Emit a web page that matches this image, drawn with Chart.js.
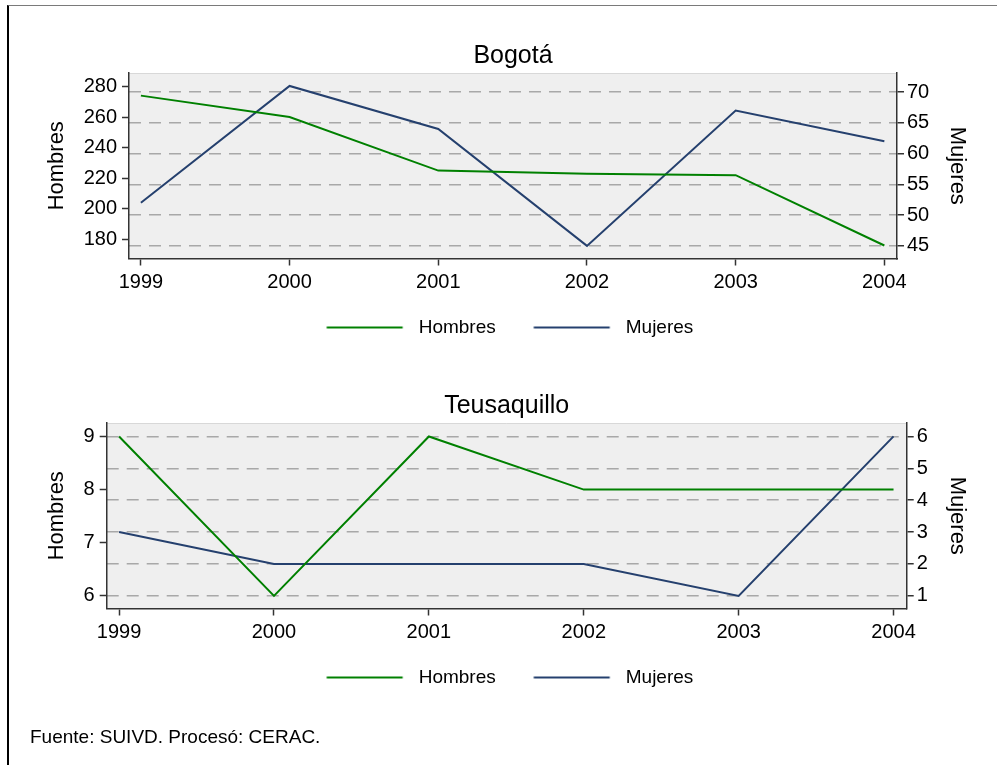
<!DOCTYPE html>
<html>
<head>
<meta charset="UTF-8">
<title>Bogotá y Teusaquillo</title>
<script src="https://cdn.jsdelivr.net/npm/chart.js"></script>
<style>
body{margin:0;background:#fff;width:997px;height:765px;overflow:hidden;position:relative;font-family:"Liberation Sans",Arial,sans-serif;}
#marco{position:absolute;left:7px;top:5px;width:995px;height:770px;border-top:1px solid #7a7a7a;border-left:2px solid #000;}
.panel{position:absolute;left:0;width:997px;height:380px;}
#fuente{position:absolute;left:30px;top:727px;font-size:19px;line-height:20px;color:#000;white-space:nowrap;}
</style>
</head>
<body>
<div id="marco"></div>
<div class="panel" style="top:0px"><canvas id="bogota"></canvas></div>
<div class="panel" style="top:350px"><canvas id="teusaquillo"></canvas></div>
<div id="fuente">Fuente: SUIVD. Procesó: CERAC.</div>
<script>
// datos
var anios = [1999, 2000, 2001, 2002, 2003, 2004];
var bogotaHombres = [274, 260, 225, 223, 222, 176];
var bogotaMujeres = [52, 71, 64, 45, 67, 62];
var teusaHombres = [9, 6, 9, 8, 8, 8];
var teusaMujeres = [3, 2, 2, 2, 1, 6];
var bogotaTicksH = [180, 200, 220, 240, 260, 280];
var bogotaTicksM = [45, 50, 55, 60, 65, 70];
var teusaTicksH = [6, 7, 8, 9];
var teusaTicksM = [1, 2, 3, 4, 5, 6];

var verde = '#008000';
var azul = '#25406e';
var fuente = '"Liberation Sans", Arial, sans-serif';

// linea larga de la leyenda (estilo Stata), con hueco delante
function lineaLeyenda(color){
	var c = document.createElement('canvas');
	c.width = 98; c.height = 4;
	var g = c.getContext('2d');
	g.strokeStyle = color; g.lineWidth = 2;
	g.beginPath(); g.moveTo(15.5, 2); g.lineTo(91.5, 2); g.stroke();
	return c;
}

// fondo gris del area de graficos
var fondo = {
	id: 'fondo',
	beforeDraw: function(chart){
		var ctx = chart.ctx, a = chart.chartArea;
		ctx.save();
		ctx.fillStyle = '#efefef';
		ctx.fillRect(a.left, a.top, a.right - a.left, a.bottom - a.top);
		ctx.strokeStyle = '#d8d8d8'; ctx.lineWidth = 1;
		ctx.beginPath(); ctx.moveTo(a.left, a.top + 0.5); ctx.lineTo(a.right, a.top + 0.5); ctx.stroke();
		ctx.restore();
	}
};

function panel(id, titulo, hombres, mujeres, ticksH, ticksM, rangoH, rangoM, bordeIzq, bordeDer){
	var padIzq = 7.5;
	var puntos = function(serie){
		return anios.map(function(a, i){ return {x: a, y: serie[i]}; });
	};
	new Chart(document.getElementById(id), {
		type: 'line',
		data: {
			datasets: [{
				label: 'Hombres',
				data: puntos(hombres),
				yAxisID: 'y',
				borderColor: verde, backgroundColor: verde,
				borderWidth: 2, pointRadius: 0, pointStyle: lineaLeyenda(verde)
			}, {
				label: 'Mujeres',
				data: puntos(mujeres),
				yAxisID: 'y1',
				borderColor: azul, backgroundColor: azul,
				borderWidth: 2, pointRadius: 0, pointStyle: lineaLeyenda(azul)
			}]
		},
		options: {
			responsive: true,
			maintainAspectRatio: false,
			animation: false,
			layout: {padding: {left: padIzq, right: 0, top: 0, bottom: 33}},
			plugins: {
				title: {
					display: true, text: titulo, fullSize: false, color: '#000',
					font: {family: fuente, size: 25, weight: 'normal'},
					padding: {top: 41, bottom: 2}
				},
				legend: {
					position: 'bottom',
					labels: {
						usePointStyle: true, pointStyleWidth: 98, padding: 22.5,
						color: '#000', font: {family: fuente, size: 19}
					}
				},
				tooltip: {enabled: false}
			},
			scales: {
				x: {
					type: 'linear', min: 1998.92, max: 2004.085,
					afterBuildTicks: function(s){ s.ticks = anios.map(function(v){ return {value: v}; }); },
					afterFit: function(s){ s.height = 37; },
					ticks: {
						callback: function(v){ return String(v); },
						autoSkip: false, maxRotation: 0, padding: 5,
						color: '#000', font: {family: fuente, size: 20}
					},
					grid: {drawOnChartArea: false, tickLength: 7, tickColor: '#333', tickWidth: 1.5},
					border: {color: '#333', width: 1.5}
				},
				y: {
					position: 'left', min: rangoH[0], max: rangoH[1],
					afterBuildTicks: function(s){ s.ticks = ticksH.map(function(v){ return {value: v}; }); },
					afterFit: function(s){ s.width = bordeIzq - padIzq; },
					ticks: {color: '#000', padding: 5, font: {family: fuente, size: 20}},
					grid: {drawOnChartArea: false, tickLength: 7, tickColor: '#333', tickWidth: 1.5},
					border: {color: '#333', width: 1.5},
					title: {
						display: true, text: 'Hombres', color: '#000',
						font: {family: fuente, size: 22}, padding: {top: 36.3, bottom: 0}
					}
				},
				y1: {
					position: 'right', min: rangoM[0], max: rangoM[1],
					afterBuildTicks: function(s){ s.ticks = ticksM.map(function(v){ return {value: v}; }); },
					afterFit: function(s){ s.width = 997 - bordeDer; },
					ticks: {color: '#000', padding: 3, font: {family: fuente, size: 20}},
					grid: {color: '#a8a8a8', lineWidth: 1.5, tickLength: 7, tickColor: '#333', tickWidth: 1.5},
					border: {color: '#333', width: 1.5, dash: [12, 8]},
					title: {
						display: true, text: 'Mujeres', color: '#000',
						font: {family: fuente, size: 22}, padding: {top: 27.1, bottom: 0}
					}
				}
			}
		},
		plugins: [fondo]
	});
}

panel('bogota', 'Bogotá', bogotaHombres, bogotaMujeres, bogotaTicksH, bogotaTicksM,
	[167.5, 288.8], [42.95, 73.1], 129, 897);
panel('teusaquillo', 'Teusaquillo', teusaHombres, teusaMujeres, teusaTicksH, teusaTicksM,
	[5.762, 9.253], [0.604, 6.42], 106.7, 906.7);
</script>
</body>
</html>
